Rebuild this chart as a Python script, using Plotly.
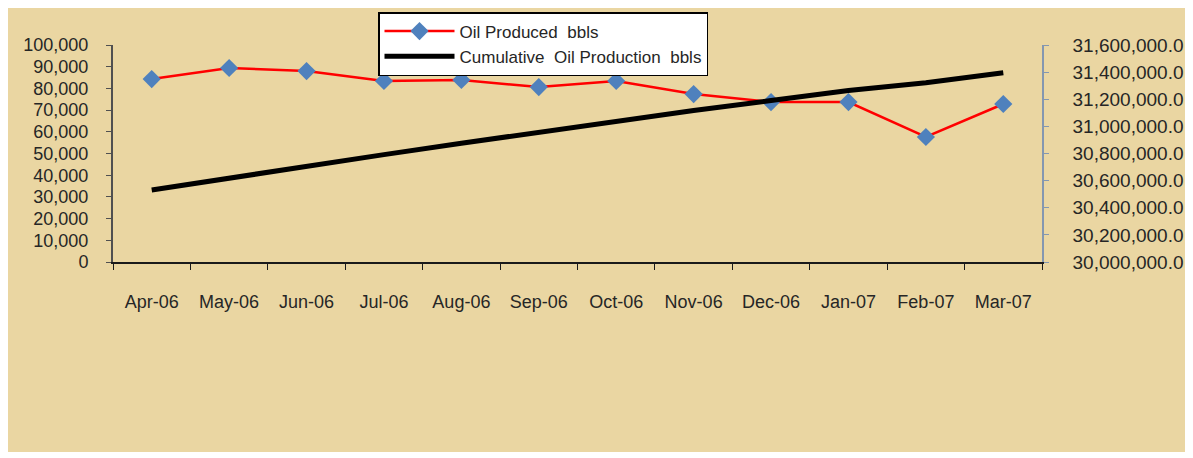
import plotly.graph_objects as go

months = ["Apr-06", "May-06", "Jun-06", "Jul-06", "Aug-06", "Sep-06",
          "Oct-06", "Nov-06", "Dec-06", "Jan-07", "Feb-07", "Mar-07"]
oil_produced = [84300, 89400, 88000, 83400, 83900, 80600,
                83400, 77400, 73700, 73700, 57600, 72800]
cumulative = [30531000, 30620400, 30708400, 30791800, 30875700, 30956300,
              31039700, 31117100, 31190800, 31264500, 31322100, 31394900]

left_ticks = list(range(0, 100001, 10000))
right_ticks = list(range(30000000, 31600001, 200000))

W, H = 1179, 444
L, R, T, B = 105, 145, 37, 190

font_family = "Liberation Sans, Arial, sans-serif"
txt = "#262626"

fig = go.Figure()
fig.add_trace(go.Scatter(
    x=months, y=oil_produced, name="Oil Produced  bbls",
    mode="lines+markers",
    line=dict(color="#FF0000", width=2.5),
    marker=dict(symbol="diamond", size=14, color="#4F81BD"),
    yaxis="y"))
fig.add_trace(go.Scatter(
    x=months, y=cumulative, name="Cumulative  Oil Production  bbls",
    mode="lines",
    line=dict(color="#000000", width=5),
    yaxis="y2"))

fig.update_layout(
    width=W, height=H,
    margin=dict(l=L, r=R, t=T, b=B, autoexpand=False),
    paper_bgcolor="#EAD6A2",
    plot_bgcolor="rgba(0,0,0,0)",
    font=dict(family=font_family, color=txt, size=18),
    showlegend=True,
    legend=dict(xref="container", yref="container",
                x=370 / W, y=1 - 4 / H, xanchor="left", yanchor="top",
                bgcolor="white", bordercolor="black", borderwidth=1.5,
                font=dict(size=17, color=txt),
                tracegroupgap=0, itemwidth=70),
    xaxis=dict(type="category", range=[-0.5, 11.5], automargin=False,
               showline=True, linecolor="#1a1a1a", linewidth=2,
               ticks="outside", ticklen=6, tickcolor="#1a1a1a",
               tickson="boundaries", showgrid=False, zeroline=False,
               ticklabelstandoff=22,
               tickfont=dict(size=18, color=txt)),
    yaxis=dict(range=[0, 100000], tickvals=left_ticks, automargin=False,
               ticktext=[f"{v:,}" for v in left_ticks],
               showline=True, linecolor="#505050", linewidth=2,
               ticks="outside", ticklen=5, tickcolor="#505050",
               showgrid=False, zeroline=False, ticklabelstandoff=14,
               tickfont=dict(size=18, color=txt)),
    yaxis2=dict(range=[30000000, 31600000], tickvals=right_ticks,
                ticktext=[f"{v:,}.0" for v in right_ticks], automargin=False,
                overlaying="y", side="right",
                showline=True, linecolor="#8497B0", linewidth=1.5,
                ticks="outside", ticklen=5, tickcolor="#8497B0",
                showgrid=False, zeroline=False, ticklabelstandoff=20,
                tickfont=dict(size=19, color=txt)),
)

fig.write_html("out.html")
